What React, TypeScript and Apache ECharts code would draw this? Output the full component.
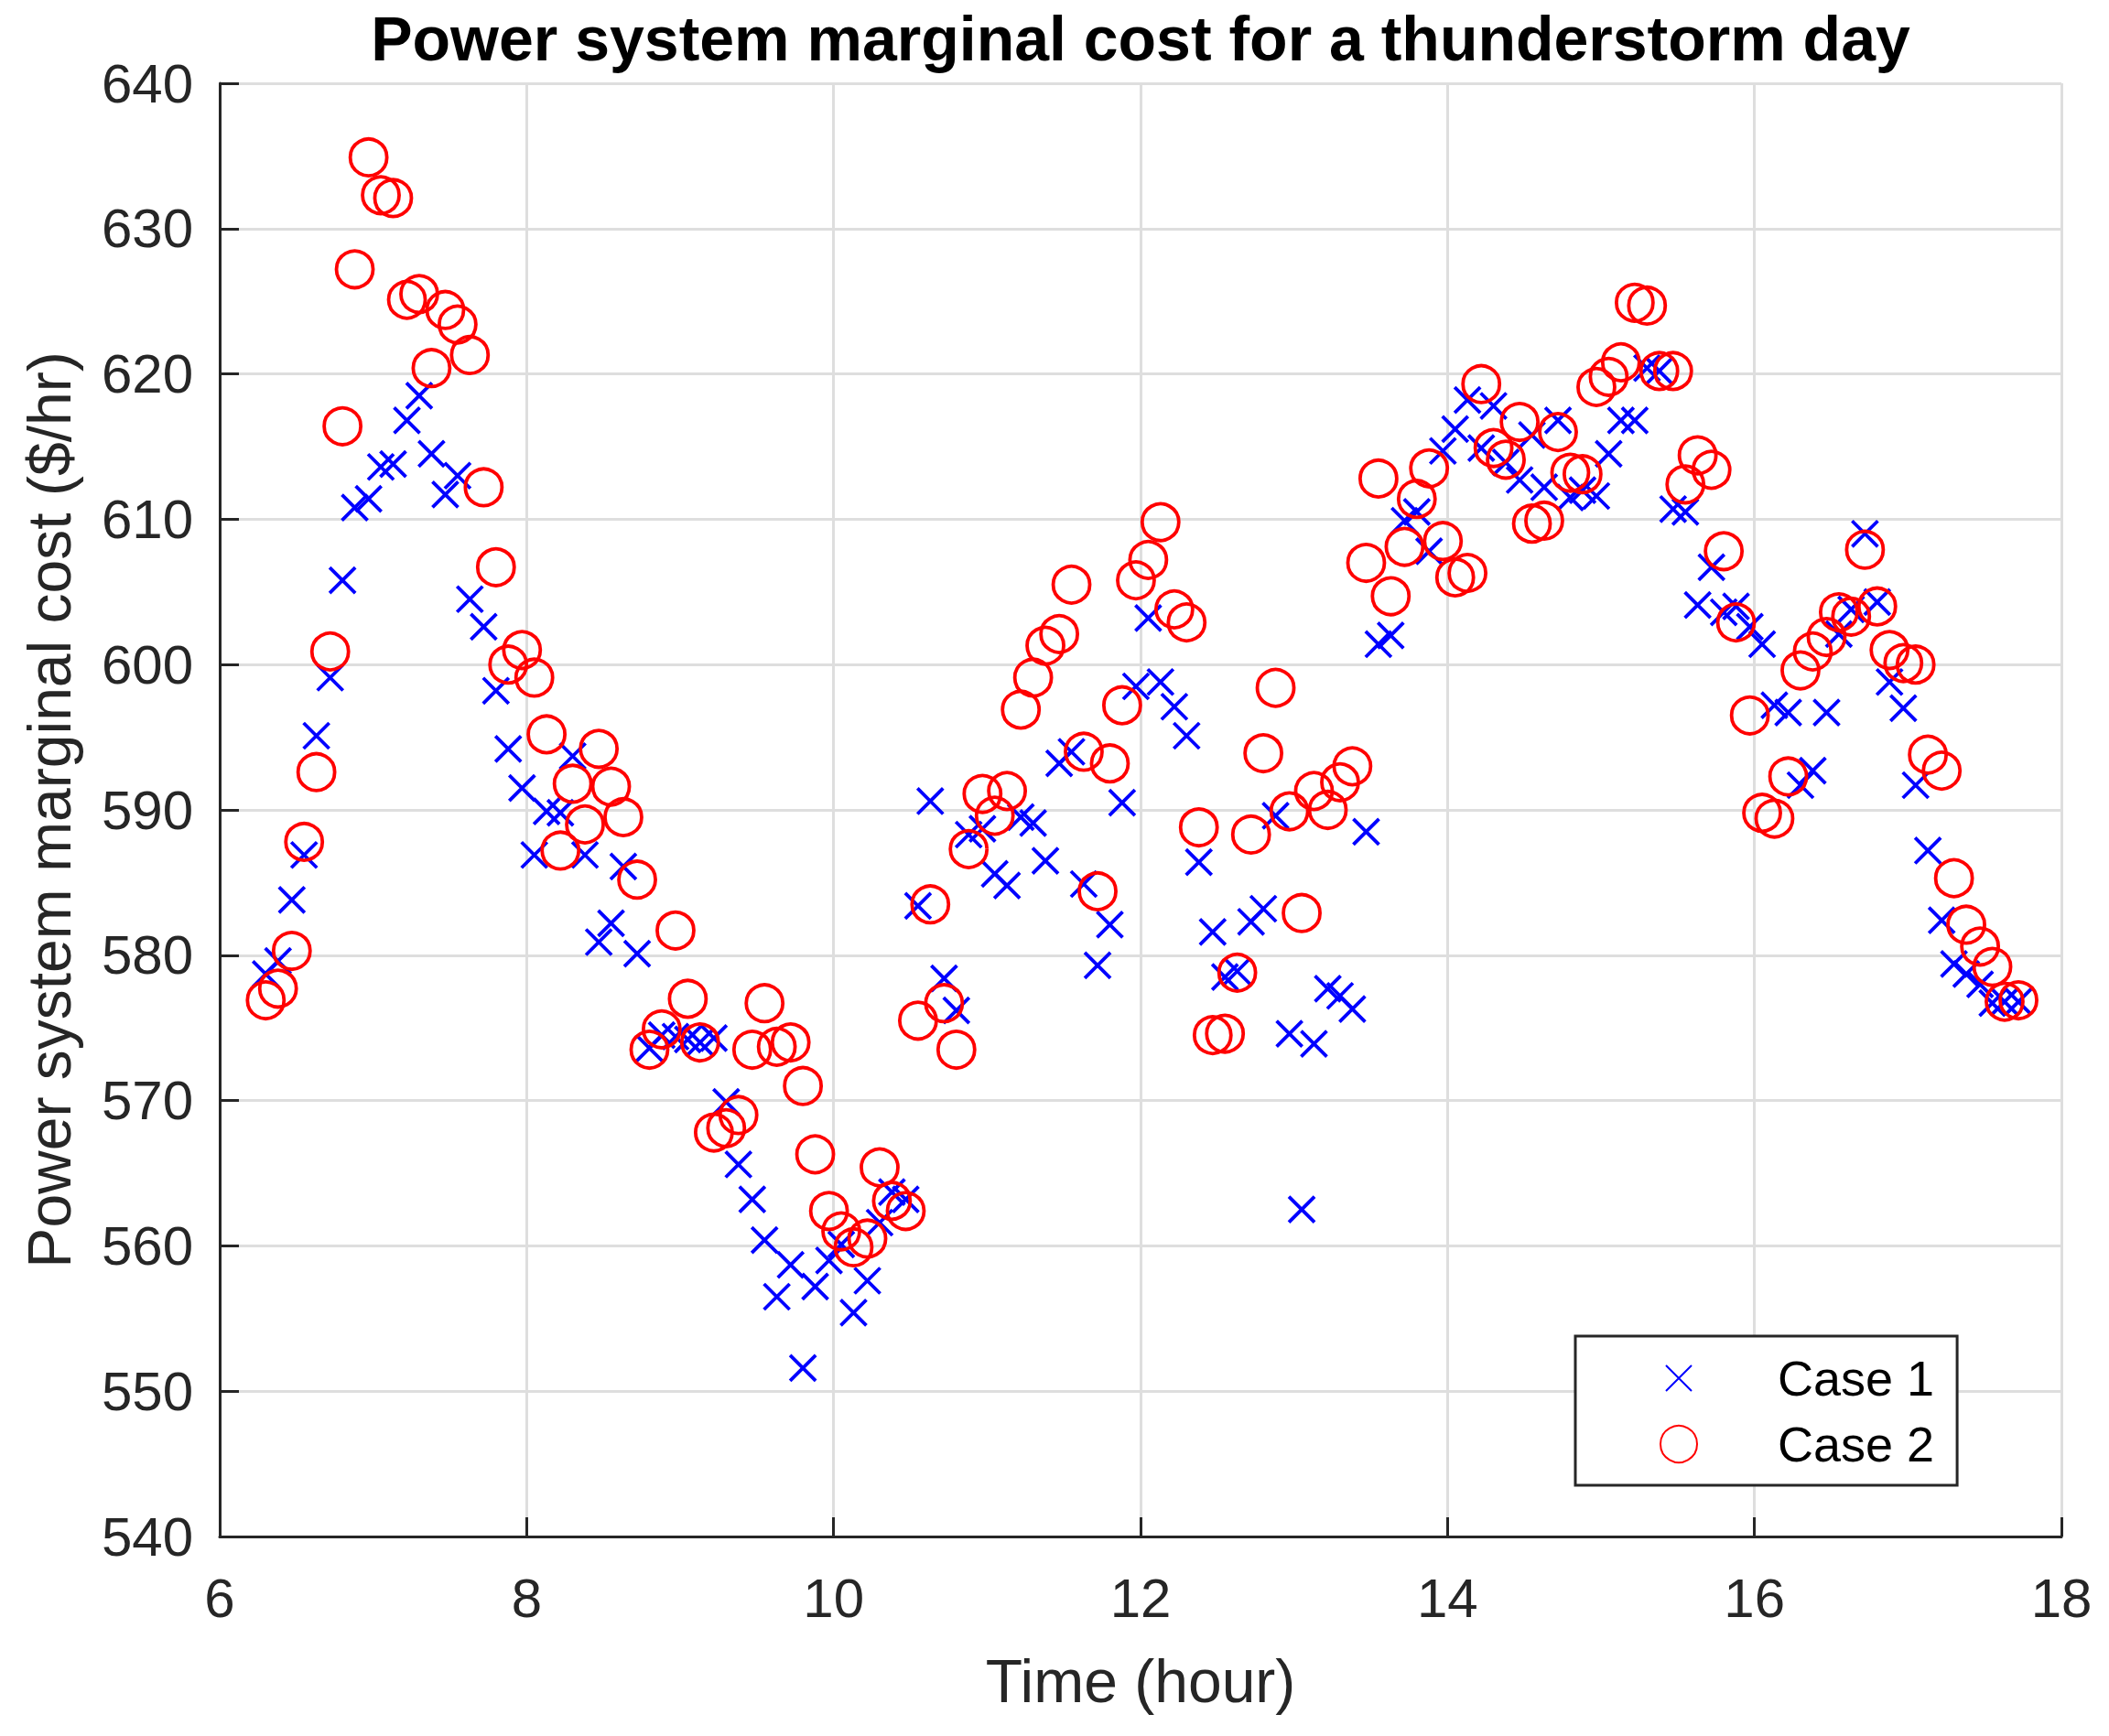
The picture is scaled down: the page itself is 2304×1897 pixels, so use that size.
import { useEffect, useRef } from "react";
import * as echarts from "echarts";

// sample times (hour of day), one every 5 minutes
const HOURS = [
  6.30, 6.38, 6.47, 6.55, 6.63, 6.72, 6.80, 6.88, 6.97,
  7.05, 7.13, 7.22, 7.30, 7.38, 7.47, 7.55, 7.63, 7.72, 7.80, 7.88, 7.97,
  8.05, 8.13, 8.22, 8.30, 8.38, 8.47, 8.55, 8.63, 8.72, 8.80, 8.88, 8.97,
  9.05, 9.13, 9.22, 9.30, 9.38, 9.47, 9.55, 9.63, 9.72, 9.80, 9.88, 9.97,
  10.05, 10.13, 10.22, 10.30, 10.38, 10.47, 10.55, 10.63, 10.72, 10.80, 10.88, 10.97,
  11.05, 11.13, 11.22, 11.30, 11.38, 11.47, 11.55, 11.63, 11.72, 11.80, 11.88, 11.97,
  12.05, 12.13, 12.22, 12.30, 12.38, 12.47, 12.55, 12.63, 12.72, 12.80, 12.88, 12.97,
  13.05, 13.13, 13.22, 13.30, 13.38, 13.47, 13.55, 13.63, 13.72, 13.80, 13.88, 13.97,
  14.05, 14.13, 14.22, 14.30, 14.38, 14.47, 14.55, 14.63, 14.72, 14.80, 14.88, 14.97,
  15.05, 15.13, 15.22, 15.30, 15.38, 15.47, 15.55, 15.63, 15.72, 15.80, 15.88, 15.97,
  16.05, 16.13, 16.22, 16.30, 16.38, 16.47, 16.55, 16.63, 16.72, 16.80, 16.88, 16.97,
  17.05, 17.13, 17.22, 17.30, 17.38, 17.47, 17.55, 17.63, 17.72,
];

const CASE1 = [
  578.7, 579.6, 583.8, 586.9, 595.1, 599.1, 605.8, 610.8, 611.4,
  613.6, 613.8, 616.8, 618.5, 614.5, 611.7, 613.0, 604.5, 602.6, 598.2, 594.2, 591.5,
  586.9, 589.9, 589.8, 593.7, 586.9, 580.9, 582.2, 586.1, 580.1, 573.6, 574.5, 574.4,
  574.2, 574.0, 574.3, 569.9, 565.6, 563.2, 560.4, 556.5, 558.7, 551.6, 557.2, 559.0,
  560.1, 555.4, 557.6, 561.6, 563.7, 563.2, 583.4, 590.6, 578.4, 576.2, 588.3, 588.7,
  585.6, 584.8, 589.5, 589.1, 586.5, 593.2, 594.0, 584.9, 579.3, 582.1, 590.5, 598.5,
  603.2, 598.8, 597.1, 595.1, 586.4, 581.6, 578.5, 578.9, 582.3, 583.2, 589.6, 574.6,
  562.5, 573.9, 577.7, 577.2, 576.3, 588.5, 601.4, 602.0, 609.9, 610.5, 607.8, 614.7,
  616.2, 618.2, 614.9, 617.8, 613.9, 612.7, 615.8, 612.2, 616.8, 611.5, 612.0, 611.6,
  614.5, 616.8, 616.8, 620.4, 620.2, 610.7, 610.5, 604.1, 606.7, 603.6, 604.0, 602.6,
  601.4, 597.2, 596.7, 591.7, 592.7, 596.7, 602.1, 603.8, 609.0, 604.3, 598.8, 597.0,
  591.7, 587.2, 582.4, 579.4, 578.7, 578.0, 576.7, 576.8, 576.8,
];

const CASE2 = [
  576.9, 577.7, 580.3, 587.8, 592.6, 600.9, 616.4, 627.2, 634.9,
  632.3, 632.1, 625.1, 625.5, 620.4, 624.4, 623.4, 621.3, 612.2, 606.7, 600.0, 601.0,
  599.1, 595.2, 587.2, 591.8, 589.0, 594.2, 591.6, 589.5, 585.2, 573.5, 574.9, 581.7,
  577.0, 574.0, 567.8, 568.1, 569.0, 573.5, 576.7, 573.7, 574.0, 571.0, 566.3, 562.4,
  561.0, 559.9, 560.5, 565.4, 563.1, 562.4, 575.5, 583.5, 576.7, 573.5, 587.3, 591.1,
  589.6, 591.3, 596.9, 599.1, 601.3, 602.1, 605.5, 594.0, 584.4, 593.2, 597.2, 605.8,
  607.2, 609.8, 603.8, 602.9, 588.8, 574.5, 574.6, 578.8, 588.3, 593.9, 598.4, 589.9,
  582.9, 591.3, 590.0, 591.9, 593.0, 607.0, 612.8, 604.7, 608.1, 611.4, 613.5, 608.5,
  606.0, 606.3, 619.3, 614.9, 614.1, 616.7, 609.7, 609.9, 616.0, 613.2, 613.1, 619.1,
  619.8, 620.8, 624.9, 624.7, 620.2, 620.2, 612.4, 614.4, 613.4, 607.8, 602.9, 596.5,
  589.8, 589.4, 592.3, 599.6, 600.9, 601.9, 603.6, 603.3, 607.9, 604.0, 601.0, 600.1,
  600.0, 593.8, 592.7, 585.3, 582.1, 580.6, 579.2, 576.8, 576.9,
];

const SERIES_NAMES = ["Case 1", "Case 2"];

const FONT = "'Liberation Sans', Arial, Helvetica, sans-serif";
const AXIS_COLOR = "#262626";
const GRID_COLOR = "#dedede";
// x marker drawn smaller than its box (zero-length corners pad the bounds)
const CROSS =
  "path://M-2.14,-2.14L-2.14,-2.14M12.14,12.14L12.14,12.14M0,0L10,10M10,0L0,10";

const App = () => {
  const chartRef = useRef<HTMLDivElement>(null);

  useEffect(() => {
    document.body.style.margin = "0";
    if (!chartRef.current) return;
    const chart = echarts.init(chartRef.current, null, { renderer: "svg" });

    const axisCommon = {
      axisLine: { show: true, lineStyle: { color: AXIS_COLOR, width: 3 } },
      axisTick: {
        show: true,
        inside: true,
        length: 21,
        lineStyle: { color: AXIS_COLOR, width: 3 },
      },
      splitLine: { show: true, lineStyle: { color: GRID_COLOR, width: 3 } },
    };

    chart.setOption({
      animation: false,
      backgroundColor: "#ffffff",
      title: {
        text: "Power system marginal cost for a thunderstorm day",
        left: 1246,
        top: 8,
        padding: 0,
        textAlign: "center",
        textStyle: {
          fontFamily: FONT,
          fontSize: 68,
          fontWeight: "bold",
          color: "#000000",
        },
      },
      grid: { left: 240, right: 52, top: 91, bottom: 218 },
      xAxis: {
        type: "value",
        min: 6,
        max: 18,
        interval: 2,
        name: "Time (hour)",
        nameLocation: "middle",
        nameGap: 125,
        nameTextStyle: { fontFamily: FONT, fontSize: 66, color: AXIS_COLOR },
        axisLabel: {
          margin: 37,
          fontFamily: FONT,
          fontSize: 60,
          color: AXIS_COLOR,
        },
        ...axisCommon,
      },
      yAxis: {
        type: "value",
        min: 540,
        max: 640,
        interval: 10,
        name: "Power system marginal cost ($/hr)",
        nameLocation: "middle",
        nameGap: 153,
        nameTextStyle: { fontFamily: FONT, fontSize: 66, color: AXIS_COLOR },
        axisLabel: {
          margin: 29,
          fontFamily: FONT,
          fontSize: 60,
          color: AXIS_COLOR,
        },
        ...axisCommon,
      },
      legend: {
        orient: "vertical",
        left: 1721,
        top: 1460,
        padding: [19, 25, 18, 92],
        itemWidth: 206,
        itemHeight: 40,
        itemGap: 18,
        backgroundColor: "#ffffff",
        borderColor: AXIS_COLOR,
        borderWidth: 3,
        borderRadius: 0,
        textStyle: { fontFamily: FONT, fontSize: 54, color: "#000000" },
        data: SERIES_NAMES,
      },
      series: [
        {
          name: SERIES_NAMES[0],
          type: "scatter",
          symbol: CROSS,
          symbolSize: 40,
          itemStyle: {
            color: "rgba(0,0,0,0)",
            borderColor: "#0000ff",
            borderWidth: 3.8,
            opacity: 1,
          },
          data: HOURS.map((h, i) => [h, CASE1[i]]),
        },
        {
          name: SERIES_NAMES[1],
          type: "scatter",
          symbol: "circle",
          symbolSize: 40,
          itemStyle: {
            color: "rgba(0,0,0,0)",
            borderColor: "#ff0000",
            borderWidth: 3.8,
            opacity: 1,
          },
          data: HOURS.map((h, i) => [h, CASE2[i]]),
        },
      ],
    });

    return () => {
      chart.dispose();
    };
  }, []);

  return <div ref={chartRef} style={{ width: "2304px", height: "1897px" }}></div>;
};

export default App;
